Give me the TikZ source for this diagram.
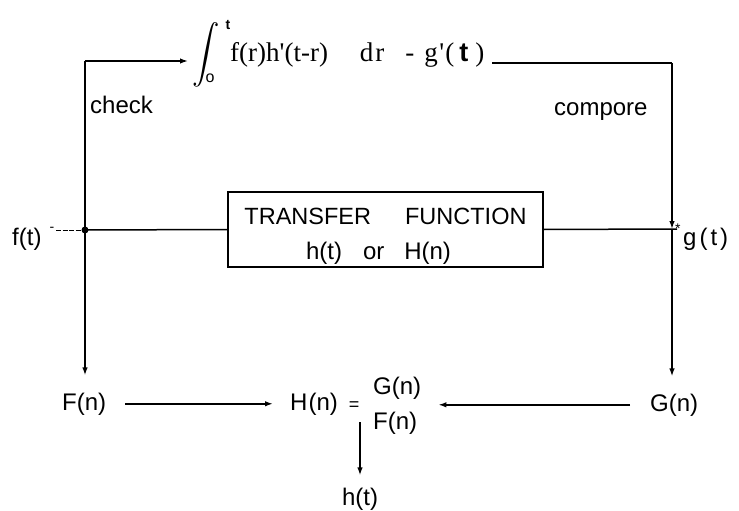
\documentclass[tikz,border=0pt]{standalone}
\usepackage{amsmath}
\usepackage{fontspec}
\setmainfont{Liberation Serif}
\setsansfont{Liberation Sans}
\usetikzlibrary{arrows.meta}
\newcommand{\fsz}[1]{\fontsize{#1}{#1}\selectfont}
\begin{document}
\begin{tikzpicture}[x=1pt,y=-1pt,
  wire/.style={line width=1.5pt},
  arr/.style={wire,-{Latex[length=8pt,width=5.5pt]}},
  lbl/.style={font=\sffamily\fsz{24}, inner sep=0pt},
  frm/.style={font=\rmfamily\fsz{27}, inner sep=0pt},
]
\fill[white] (0,0) rectangle (739,511);
\useasboundingbox (0,0) rectangle (739,511);

% --- junction points of the wiring
\coordinate (tl) at (85,61);
\coordinate (lj) at (85,230);
\coordinate (fs) at (56,230);
\coordinate (ia) at (188,61);
\coordinate (fe) at (492,63);
\coordinate (tr) at (672,63);
\coordinate (rj) at (672,229);
\coordinate (hs) at (360,422);

% --- top: convolution check
\node[inner sep=0pt] (int) at (206,55) {\scalebox{1.1}[1.17]{\fsz{36}$\displaystyle\int$}};
\node[lbl, font=\sffamily\bfseries\fsz{14}, anchor=base] (up) at (228,30) {t};
\node[lbl, font=\sffamily\fsz{16}, anchor=base] (lo) at (210,83) {o};
\node[frm, anchor=base west] (form) at (230,62)
  {f(r)h\textquotesingle(t-r)\hspace{32pt}d\kern2pt r\hspace{21pt}-\hspace{10pt}g\kern1.5pt\textquotesingle\kern1pt(\kern5pt{\sffamily\bfseries t}\kern7pt)};
\node[lbl, anchor=base west] (chk) at (90,113) {check};
\node[lbl, anchor=base west] (cmp) at (554,115) {compore};

% --- transfer function block
\node[draw, line width=1.5pt, minimum width=315pt, minimum height=75pt, inner sep=0pt] (tf) at (385.5,229.5) {};
\node[lbl, font=\sffamily\fsz{23.5}, anchor=base] (tf1) at (385.5,224) {TRANSFER\hspace{34pt}FUNCTION};
\node[lbl, anchor=base] (tf2) at (378.5,259) {h(t)\hspace{21pt}or\hspace{20pt}H(n)};

% --- input and output signals
\node[lbl, anchor=base west] (ft) at (12,245) {f(t)};
\node[lbl, font=\sffamily\fsz{14}, anchor=base] (ftm) at (52,231) {-};
\node[lbl, font=\sffamily\fsz{14}, anchor=base west] (ast) at (675,233) {*};
\node[lbl, anchor=base west] (gt) at (683,245) {g\kern3pt(\kern3pt t\kern3pt)};

% --- frequency domain
\node[lbl, anchor=base west] (Fn) at (62,410) {F(n)};
\node[lbl, anchor=base west] (Hn) at (290,410) {H\kern1pt(n)\hspace{11pt}{\fsz{18}=}};
\node[lbl, anchor=base west] (Gnum) at (373,394) {G(n)};
\node[lbl, anchor=base west] (Fden) at (373,429) {F(n)};
\node[lbl, anchor=base west] (Gn) at (650,411) {G(n)};
\node[lbl, anchor=base] (ht) at (360,505) {h(t)};

% --- connectors
\draw[wire] (lj) -- (tl);
\draw[arr] (tl) -- (ia);
\draw[wire] (fe) -- (tr);
\draw[arr] (tr) -- (rj);
\draw[line width=1pt, dash pattern=on 5pt off 1.5pt] (fs) -- (lj);
\draw[wire] (lj) -- (tf.west);
\draw[wire] (tf.east) -- (rj) -- ++(5,0);
\fill (lj) circle (3.5);
\draw[arr, shorten >=17pt] (lj) -- (lj |- Fn.north);
\draw[arr, shorten >=17pt] (rj) -- (rj |- Gn.north);
\draw[arr, shorten <=19pt, shorten >=17pt] (Fn.east) -- (Hn.west);
\draw[arr] ([xshift=-20pt]Gn.west) -- ([xshift=17pt]Gnum.east |- Gn.west);
\draw[arr] (hs) -- ([yshift=12pt]ht.north);
\end{tikzpicture}
\end{document}
